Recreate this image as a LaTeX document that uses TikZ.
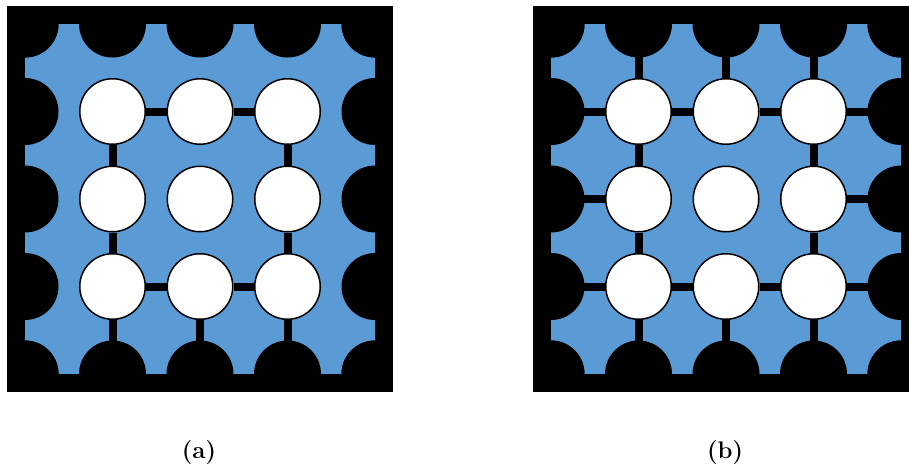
\documentclass[tikz,border=0pt]{standalone}
\usetikzlibrary{positioning}
\definecolor{cellblue}{HTML}{5B9BD5}
\pgfdeclarelayer{base}
\pgfdeclarelayer{bonds}
\pgfsetlayers{base,bonds,main}
\tikzset{
  hole/.style={circle,draw=black,line width=1.5pt,fill=white,minimum size=65.5pt,inner sep=0pt},
  bond/.style={line width=8pt,black},
  panel label/.style={font=\fontsize{24}{28}\selectfont\bfseries},
}
\begin{document}
\begin{tikzpicture}[x=1pt,y=-1pt]
  \useasboundingbox (0,0) rectangle (909,467);
  % two panels, same grid
  \foreach \p/\dx in {a/0,b/526} {
    \begin{scope}[xshift=\dx pt]
      % grid points (5x5)
      \foreach \i in {0,...,4} \foreach \j in {0,...,4}
        \coordinate (\p\i\j) at (25+87.5*\i,24+87.5*\j);
      \begin{pgfonlayer}{base}
        \fill[black] (7,6) rectangle (393,392);
        \fill[cellblue] (25,24) rectangle (375,374);
        % black discs on the border
        \begin{scope}
          \clip (25,24) rectangle (375,374);
          \foreach \k in {0,...,4} {
            \fill (\p\k0) circle (33.5pt); \fill (\p\k4) circle (33.5pt);
            \fill (\p0\k) circle (33.5pt); \fill (\p4\k) circle (33.5pt);
          }
        \end{scope}
      \end{pgfonlayer}
      % white holes
      \foreach \i in {1,2,3} \foreach \j in {1,2,3}
        \node[hole] (h\p\i\j) at (\p\i\j) {};
      \node[panel label] (lab\p) at (199,452) {(\p)};
    \end{scope}
  }
  \begin{pgfonlayer}{bonds}
    % (a)
    \foreach \s/\t in {ha11/ha21,ha21/ha31,ha13/ha23,ha23/ha33,
                       ha11/ha12,ha12/ha13,ha31/ha32,ha32/ha33,
                       ha13/a14,ha23/a24,ha33/a34}
      \draw[bond] (\s) -- (\t);
    % (b)
    \foreach \s/\t in {b01/hb11,hb11/hb21,hb21/hb31,hb31/b41,
                       b03/hb13,hb13/hb23,hb23/hb33,hb33/b43,
                       b02/hb12,hb32/b42,
                       b10/hb11,hb11/hb12,hb12/hb13,hb13/b14,
                       b30/hb31,hb31/hb32,hb32/hb33,hb33/b34,
                       b20/hb21,hb23/b24}
      \draw[bond] (\s) -- (\t);
  \end{pgfonlayer}
\end{tikzpicture}
\end{document}
